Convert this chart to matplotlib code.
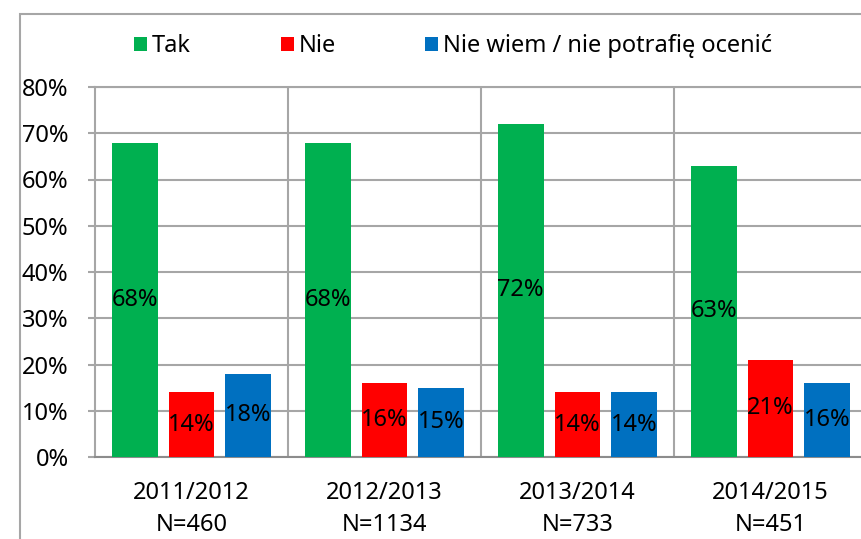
import numpy as np
import matplotlib
matplotlib.use('Agg')
import matplotlib.pyplot as plt
from matplotlib.patches import Rectangle, Patch

plt.rcParams['font.family'] = ['Noto Sans', 'DejaVu Sans']

years = ['2011/2012', '2012/2013', '2013/2014', '2014/2015']
sample_sizes = [460, 1134, 733, 451]
series_names = ['Tak', 'Nie', 'Nie wiem / nie potrafię ocenić']
tak = [68, 68, 72, 63]
nie = [14, 16, 14, 21]
nie_wiem = [18, 15, 14, 16]
colors = ['#00B050', '#FF0000', '#0070C0']

grid_color = '#A6A6A6'
fs = 17

fig = plt.figure(figsize=(8.61, 5.39), dpi=100)
# chart area frame (right and bottom edges fall outside the canvas)
fig.patches.append(Rectangle((20 / 861, -0.1), 1.2, 1 - 14 / 539 + 0.1,
                             transform=fig.transFigure, fill=False,
                             edgecolor=grid_color, linewidth=1.5))

ax = fig.add_axes([95 / 861, 82 / 539, 772 / 861, 370 / 539])

x = np.arange(len(years))
width = 0.238
step = 0.295
for i, (vals, c) in enumerate(zip((tak, nie, nie_wiem), colors)):
    bars = ax.bar(x + (i - 1) * step, vals, width, color=c, zorder=3,
                  label=series_names[i])
    ax.bar_label(bars, labels=[f'{v}%' for v in vals], label_type='center',
                 fontsize=fs, color='black')

ax.set_xlim(-0.5, len(years) - 0.5)
ax.set_ylim(0, 80)
ax.set_yticks(np.arange(0, 81, 10))
ax.set_yticklabels([f'{v}%' for v in range(0, 81, 10)], fontsize=fs)
ax.set_xticks(x)
ax.set_xticklabels([f'{y}\nN={n}' for y, n in zip(years, sample_sizes)],
                   fontsize=fs, linespacing=1.45)
ax.tick_params(axis='x', length=0, pad=17)
ax.tick_params(axis='y', length=5, color=grid_color, width=1.5, pad=14)

ax.yaxis.grid(True, color=grid_color, linewidth=1.5, zorder=0)
for b in x[:-1] + 0.5:
    ax.axvline(b, color=grid_color, linewidth=1.5, zorder=1)
for s in ax.spines.values():
    s.set_color(grid_color)
    s.set_linewidth(1.5)
ax.spines['bottom'].set_color('#8C8C8C')
ax.set_axisbelow(True)

handles = [Patch(facecolor=c, edgecolor='none') for c in colors]
fig.legend(handles, series_names, loc='center left',
           bbox_to_anchor=(113 / 861, 1 - 46 / 539), ncol=3, frameon=False,
           fontsize=fs, handlelength=0.55, handleheight=0.55,
           handletextpad=0.2, columnspacing=3.8)

fig.savefig('out.png', dpi=100)
